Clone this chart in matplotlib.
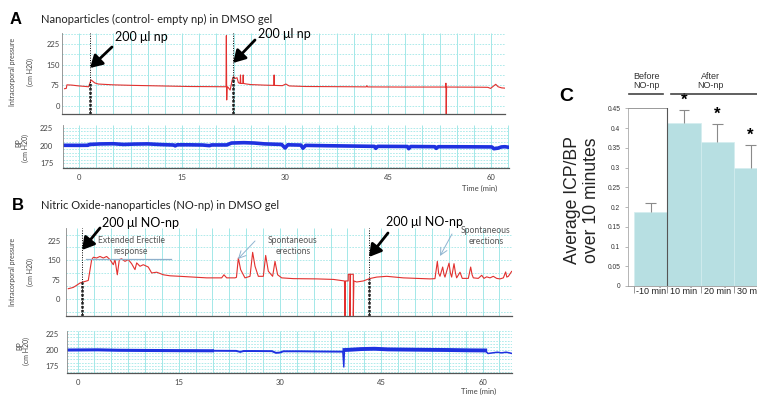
import matplotlib
matplotlib.use("Agg")
import matplotlib.pyplot as plt
import numpy as np

W, H = 757, 399

# ---- panel A: empty nanoparticles (time in min, pressure in cm H2O) ----
icp_a_t = [-2.1, -1.85, -1.75, -1.0, 0.0, 1.0, 1.4, 1.55, 1.75, 2.0, 2.3, 2.8, 3.5, 5, 8, 12, 16, 19,
           21.4, 21.45, 21.5, 21.55, 21.7, 22.0, 22.3, 22.5, 22.7, 23.0, 23.2, 23.45, 23.5, 23.55,
           23.85, 23.9, 23.95, 24.4, 25, 27, 28.35, 28.4, 28.45, 29.6, 30.1, 30.6, 33, 40, 41.8, 41.9,
           42.0, 47, 53.35, 53.4, 53.45, 53.5, 58, 59.5, 59.9, 60.3, 60.65, 61.0, 61.5, 62.0]
icp_a = [63, 64, 77, 76, 73, 71, 70, 80, 95, 90, 84, 80, 79, 77, 75, 73, 71, 70.5,
         70, 256, 22, 70, 68, 58, 95, 107, 100, 103, 85, 82, 113, 82,
         82, 113, 82, 80, 78, 76, 75, 113, 75, 74, 80, 73, 71, 70, 69.5, 74,
         69.5, 69, 69, 83, -30, 69, 68.5, 68, 64, 72, 79, 70, 66, 65]
bp_a_t = [-2.3, 0, 1.3, 1.5, 3, 5, 6.5, 8, 10, 12, 13.8, 14, 14.3, 16, 18, 19, 19.3, 21.5, 22.2, 24,
          25.5, 27, 29.5, 30.0, 30.4, 32.3, 32.6, 33, 36, 40, 43.0, 43.2, 43.5, 47.8, 48.0, 48.3,
          51.8, 52.0, 52.3, 56, 60.1, 60.4, 61.0, 61.5, 62.0, 62.6]
bp_a = [200.3, 200.2, 200.3, 201.5, 202.2, 202.5, 201.5, 202, 202.3, 201.3, 200.7, 199.5, 201, 201,
        200.7, 199.8, 200.8, 200.8, 203.5, 204, 203.5, 202.3, 201.5, 196.5, 201, 200.6, 196.2, 200.2,
        199.7, 199.2, 198.8, 196, 198.8, 198.6, 195.5, 198.6, 198.3, 196, 198.3, 198.2, 198,
        195.5, 196.3, 198, 198.3, 197.5]
inj_a = [1.6, 22.46]

# ---- panel B: NO nanoparticles ----
icp_b_t = [-1.36, -0.9, -0.62, -0.2, 0.37, 0.8, 1.11, 1.6, 2.1, 2.35, 2.84, 3.33, 3.83, 4.32, 4.81,
           5.31, 5.56, 5.9, 6.2, 6.54, 7.04, 7.53, 8.02, 8.52, 8.77, 9.26, 9.75, 10.49, 10.99, 11.73,
           12.72, 13.7, 15.19, 17.16, 19.14, 21.11, 21.36, 21.7, 22.1, 23.33, 23.55, 23.83, 24.17,
           24.81, 25.56, 25.95, 26.3, 26.79, 27.53, 27.88, 28.27, 28.91, 29.26, 29.65, 30.25, 31.98,
           35.43, 37.9, 39.55, 39.63, 39.7, 40.1, 40.12, 40.37, 40.37, 40.45, 40.86, 40.86, 40.95,
           41.36, 42.35, 43.24, 44.32, 45.8, 48.27, 50.25, 52.22, 52.96, 53.31, 53.5, 53.7, 54.1, 54.3,
           54.44, 55.04, 55.25, 55.43, 55.78, 56.0, 56.17, 56.67, 57.0, 57.9, 58.25, 58.45, 58.64,
           59.38, 59.88, 60.22, 60.62, 61.11, 61.6, 62.1, 62.59, 63.09, 63.43, 63.6, 63.83, 64.32]
icp_b = [40, 43, 45, 52, 62, 66, 68, 72, 152, 162, 159, 165, 159, 165, 153,
         133, 153, 94, 153, 156, 146, 153, 137, 114, 140, 127, 133, 124, 101, 104,
         94, 90, 88, 85, 82, 82, 82, 94, 82, 82, 84, 159, 114,
         82, 88, 181, 127, 88, 88, 169, 108, 88, 146, 94, 82, 79,
         78, 76, 70, -65, 70, 70, 96, 96, -65, 96, 96, -65, 70,
         66, 70, 79, 85, 88, 82, 80, 78, 79, 146, 100, 88, 124, 95,
         85, 139, 100, 85, 137, 100, 82, 104, 80, 80, 124, 95, 82,
         80, 92, 80, 86, 82, 88, 80, 78, 82, 105, 85, 88, 107]
bp_b_t = [-1.5, 3, 6, 10, 15, 20, 23.5, 24.1, 24.6, 26, 28.8, 29.4, 30.0, 30.5, 33, 36.5, 39.3, 39.45,
          39.55, 40.5, 42, 44, 46, 50, 55, 58, 60.4, 60.8, 61.5, 62.2, 62.8, 63.5, 64.0, 64.37]
bp_b = [200, 200.3, 199.6, 199.3, 199, 198.8, 198.6, 197, 198.4, 198.4, 198.2, 195.5, 196, 198, 198,
        197.6, 197.4, 173, 200, 200.5, 201.5, 202, 201, 200.5, 200, 199.5, 199.3, 194.5, 195.5,
        196.5, 195.5, 196.5, 195.5, 194.5]
inj_b = [0.62, 43.24]

# ---- panel C: average ICP/BP over 10 minutes ----
c_labels = ["-10 min", "10 min", "20 min", "30 min"]
c_means = [0.188, 0.414, 0.365, 0.299]
c_err = [0.021, 0.031, 0.044, 0.057]
c_sig = [False, True, True, True]

ticks_icp = [0, 75, 150, 225]
ticks_bp = [175, 200, 225]
ticks_time = [0, 15, 30, 45, 60]

RED = "#e2302e"
BLUE = "#1e32e0"
GRID = "#a3e8e8"
FONT = ["Lato", "DejaVu Sans"]
ARIAL = ["Liberation Sans", "DejaVu Sans"]

fig = plt.figure(figsize=(W / 100, H / 100), dpi=100)


def px_box(l, t, r, b):
    return [l / W, 1 - b / H, (r - l) / W, (b - t) / H]


def trace_axes(box, xlim, ylim, yticks, hstep, pad):
    ax = fig.add_axes(px_box(*box))
    ax.set_xlim(xlim)
    ax.set_ylim(ylim)
    ax.vlines(np.arange(0, xlim[1], 2.5), ylim[0], ylim[1], color=GRID, lw=0.7, zorder=0)
    hl = np.arange(np.ceil(ylim[0] / hstep) * hstep, ylim[1], hstep)
    ax.hlines(hl, xlim[0], xlim[1], color=GRID, lw=0.6, ls=(0, (2, 1.5)), zorder=0)
    ax.set_yticks(yticks)
    ax.set_yticklabels([str(v) for v in yticks], fontsize=5.5, color="#444", family=FONT)
    ax.set_xticks([])
    ax.tick_params(length=0, pad=pad)
    for s in ["top", "right"]:
        ax.spines[s].set_visible(False)
    ax.spines["left"].set_color("#888")
    ax.spines["left"].set_linewidth(0.6)
    ax.spines["bottom"].set_color("#555")
    ax.spines["bottom"].set_linewidth(0.9)
    return ax


def injections(ax, inj, t, v, ylim):
    for ti in inj:
        ax.axvline(ti, color="k", lw=0.7, ls=(0, (1, 1.5)))
        lvl = np.interp(ti, t, v)
        ax.plot([ti, ti], [ylim[0], lvl], color="#222", lw=1.8, ls=(0, (1, 0.6)))


# A: intracorporal pressure
ylim = (-29.1, 265.7)
ax = trace_axes((62, 33, 505, 114), (-2.47, 62.0), ylim, ticks_icp, 37.5, 1.5)
ax.plot(icp_a_t, icp_a, color=RED, lw=0.8)
injections(ax, inj_a, icp_a_t, icp_a, ylim)

# A: blood pressure
ax = trace_axes((63, 125, 509, 168), (-2.33, 62.6), (168.3, 228.9), ticks_bp, 5, 7)
ax.plot(bp_a_t, bp_a, color=BLUE, lw=2.6, solid_joinstyle="round")
ax.set_xticks(ticks_time)
ax.set_xticklabels([str(v) for v in ticks_time], fontsize=5.5, color="#444", family=FONT)
ax.tick_params(axis="x", pad=4)

# B: intracorporal pressure
ylim = (-65.9, 275.4)
ax = trace_axes((66, 228, 512, 316), (-1.70, 64.37), ylim, ticks_icp, 50, 4)
ax.plot(icp_b_t, icp_b, color=RED, lw=0.8)
injections(ax, inj_b, icp_b_t, icp_b, ylim)

# B: blood pressure (line thickness changes along the recording)
ax = trace_axes((67, 331, 512, 373), (-1.56, 64.37), (163.5, 230.2), ticks_bp, 5, 6)
seg = [(0, 6, 2.2), (5, 17, 1.4), (16, 19, 1.0), (18, 27, 2.8), (26, 34, 1.1)]
for i0, i1, lw in seg:
    ax.plot(bp_b_t[i0:i1], bp_b[i0:i1], color=BLUE, lw=lw, solid_joinstyle="round")
ax.set_xticks(ticks_time)
ax.set_xticklabels([str(v) for v in ticks_time], fontsize=5.5, color="#444", family=FONT)
ax.tick_params(axis="x", pad=4)

# C: bar chart
axc = fig.add_axes(px_box(628, 108.3, 800, 286))
x = np.arange(len(c_labels))
axc.bar(x, c_means, width=1.0, color="#b7dfe2", edgecolor="#d3edef", lw=0.5, zorder=2)
tops = np.array(c_means) + np.array(c_err)
axc.vlines(x, c_means, tops, color="#8a8a8a", lw=0.8, zorder=3)
axc.hlines(tops, x - 0.16, x + 0.16, color="#8a8a8a", lw=0.8, zorder=3)
for xi, tp, s in zip(x, tops, c_sig):
    if s:
        axc.text(xi, tp + 0.006, "*", ha="center", va="bottom", fontsize=12,
                 fontweight="bold", family=ARIAL, clip_on=False)
axc.set_xlim(-0.68, 4.485)
axc.set_ylim(0, 0.45)
axc.plot([-0.68, 0.5], [0.45, 0.45], color="#999", lw=0.7, clip_on=False, zorder=4)
axc.plot([0.5, 0.5], [0, 0.45], color="#555", lw=0.8, zorder=4)
yt = np.arange(0, 0.46, 0.05)
axc.set_yticks(yt)
axc.set_yticklabels([f"{v:g}" for v in np.round(yt, 2)], fontsize=4.8, color="#333", family=ARIAL)
axc.set_xticks(x)
axc.set_xticklabels(c_labels, fontsize=6.5, color="#222", family=ARIAL)
axc.set_xticks(np.arange(-0.5, len(c_labels) + 0.5, 1.0), minor=True)
axc.tick_params(axis="x", which="major", length=0, pad=1)
axc.tick_params(axis="x", which="minor", length=5, width=0.6, color="#888")
axc.tick_params(axis="y", length=2.5, width=0.5, color="#999", pad=3)
for s in ["top", "right"]:
    axc.spines[s].set_visible(False)
axc.spines["left"].set_color("#aaa")
axc.spines["left"].set_linewidth(0.6)
axc.spines["bottom"].set_color("#999")
axc.spines["bottom"].set_linewidth(0.6)

# overlay in pixel coordinates for labels and annotations
ov = fig.add_axes([0, 0, 1, 1], facecolor="none")
ov.set_xlim(0, W)
ov.set_ylim(H, 0)
ov.axis("off")

ov.text(16, 19, "A", fontsize=12, fontweight="bold", family=ARIAL, ha="center", va="center")
ov.text(41, 19, "Nanoparticles (control- empty np) in DMSO gel", fontsize=8, family=FONT,
        va="center", color="#222")
ov.text(18, 205, "B", fontsize=12, fontweight="bold", family=ARIAL, ha="center", va="center")
ov.text(41, 205, "Nitric Oxide-nanoparticles (NO-np) in DMSO gel", fontsize=8, family=FONT,
        va="center", color="#222")

for yc in (72, 272):
    ov.text(12.7, yc, "Intracorporal pressure", rotation=90, fontsize=5, family=FONT,
            ha="center", va="center", color="#444")
    ov.text(30, yc, "(cm H20)", rotation=90, fontsize=5, family=FONT,
            ha="center", va="center", color="#444")
for yc, xb in ((147, 19), (350, 19.5)):
    ov.text(xb, yc - 4, "BP", rotation=90, fontsize=5, family=FONT, ha="center", va="center",
            color="#444")
    ov.text(xb + 6.5, yc + 1, "(cm H20)", rotation=90, fontsize=5, family=FONT, ha="center",
            va="center", color="#444")
ov.text(480, 188, "Time (min)", fontsize=5.5, family=FONT, ha="center", va="center", color="#444")
ov.text(479, 391, "Time (min)", fontsize=5.5, family=FONT, ha="center", va="center", color="#444")


def big_arrow(tip, tail):
    ov.annotate("", xy=tip, xytext=tail,
                arrowprops=dict(arrowstyle="-|>,head_width=0.35,head_length=0.6", lw=2.0,
                                color="black", shrinkA=0, shrinkB=0, mutation_scale=12))


def thin_arrow(tip, tail):
    ov.annotate("", xy=tip, xytext=tail,
                arrowprops=dict(arrowstyle="->,head_width=0.25,head_length=0.5", lw=0.7,
                                color="#8fb4d0", shrinkA=0, shrinkB=0, mutation_scale=10))


ov.text(141, 37, "200 \u03bcl np", fontsize=9, family=FONT, ha="center", va="center")
big_arrow((90, 68), (112, 47))
ov.text(284, 34, "200 \u03bcl np", fontsize=9, family=FONT, ha="center", va="center")
big_arrow((233, 63), (255, 40))

ov.text(140, 223, "200 \u03bcl NO-np", fontsize=9, family=FONT, ha="center", va="center")
big_arrow((82, 250), (100, 228))
ov.text(424, 222, "200 \u03bcl NO-np", fontsize=9, family=FONT, ha="center", va="center")
big_arrow((369, 257), (388, 233))

ov.text(131, 246, "Extended Erectile\nresponse", fontsize=6.2, family=FONT, ha="center",
        va="center", color="#555", linespacing=1.25)
ov.plot([86, 171], [259, 259], color="#8fb0cc", lw=0.9)
ov.text(293, 246, "Spontaneous\nerections", fontsize=6.2, family=FONT, ha="center",
        va="center", color="#555", linespacing=1.25)
thin_arrow((238, 259), (255, 241))
ov.text(486, 236, "Spontaneous\nerections", fontsize=6.2, family=FONT, ha="center",
        va="center", color="#555", linespacing=1.25)
thin_arrow((440, 256), (452, 234))

ov.text(566.7, 96.7, "C", fontsize=14, fontweight="bold", family=ARIAL, ha="center", va="center")
ov.text(582, 200, "Average ICP/BP\nover 10 minutes", rotation=90, fontsize=12.7, family=ARIAL,
        ha="center", va="center", linespacing=1.15, color="#222")
ov.text(646.5, 81, "Before\nNO-np", fontsize=6.5, family=ARIAL, ha="center", va="center",
        color="#333", linespacing=1.1)
ov.plot([629, 663], [93.7, 93.7], color="#444", lw=1.2)
ov.text(710, 81, "After\nNO-np", fontsize=6.5, family=ARIAL, ha="center", va="center",
        color="#333", linespacing=1.1)
ov.plot([671, 760], [93.7, 93.7], color="#444", lw=1.2)

fig.savefig("out.png", dpi=100)
